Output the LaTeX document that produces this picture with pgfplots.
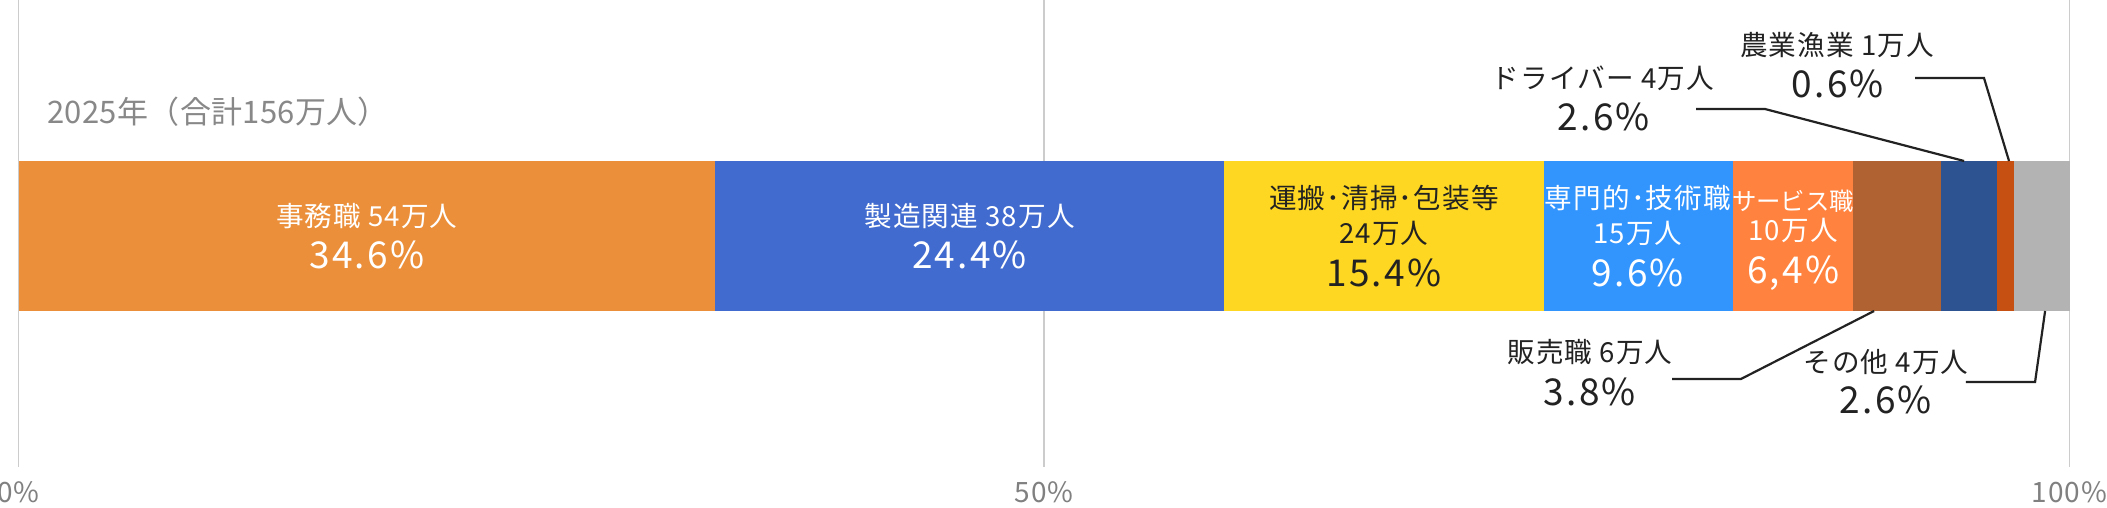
\documentclass[border=0pt]{standalone}
\usepackage{fontspec}
\setmainfont{Noto Sans CJK JP}
\newfontfamily\numfont[LetterSpace=6]{Noto Sans CJK JP}
\newfontfamily\labfont[LetterSpace=4]{Noto Sans CJK JP}
\newfontfamily\titlefont[LetterSpace=1]{Noto Sans CJK JP}
\usepackage{pgfplots}
\pgfplotsset{compat=1.18}
\definecolor{cJimu}{RGB}{235,143,58}
\definecolor{cSeizo}{RGB}{65,107,207}
\definecolor{cUnpan}{RGB}{253,215,33}
\definecolor{cSenmon}{RGB}{50,148,253}
\definecolor{cService}{RGB}{255,131,63}
\definecolor{cHanbai}{RGB}{176,98,51}
\definecolor{cDriver}{RGB}{46,83,145}
\definecolor{cNogyo}{RGB}{198,80,17}
\definecolor{cOther}{RGB}{179,179,179}
\definecolor{cText}{RGB}{34,34,34}
\definecolor{cGrid}{RGB}{204,204,204}
\definecolor{cTitle}{RGB}{136,136,136}
% map (percent, pixel-height) of the axis to picture coordinates
\newcommand{\pos}[2]{({9.25pt+#1*10.255pt},{20.5pt+#2*0.5pt})}
\newcommand{\lab}[4]{\node[anchor=base,inner sep=0pt,yshift=-5pt,text=#4,font=\labfont\fontsize{13.8}{14}\selectfont] at \pos{#1}{#2} {#3};}
\newcommand{\pct}[4]{\node[anchor=base,inner sep=0pt,yshift=-6.75pt,text=#4,font=\numfont\fontsize{18.5}{19}\selectfont] at \pos{#1}{#2} {#3};}
\begin{document}
\begin{tikzpicture}
\begin{axis}[
  at={(9.25pt,20.5pt)}, anchor=south west,
  scale only axis, width=1025.5pt, height=233.5pt,
  xmin=0, xmax=100, ymin=0, ymax=467,
  xbar stacked, bar width=150,
  xtick={0,50,100}, xticklabels={0\%,50\%,100\%},
  ytick=\empty,
  xmajorgrids, grid style={color=cGrid, line width=0.6pt},
  axis line style={draw=none},
  major tick length=0pt,
  xticklabel style={text=gray, font=\labfont\fontsize{14}{14}\selectfont, yshift=-4pt},
  clip=false,
]
\addplot[fill=cJimu, draw=none] coordinates {(33.96,231)};
\addplot[fill=cSeizo, draw=none] coordinates {(24.82,231)};
\addplot[fill=cUnpan, draw=none] coordinates {(15.58,231)};
\addplot[fill=cSenmon, draw=none] coordinates {(9.23,231)};
\addplot[fill=cService, draw=none] coordinates {(5.85,231)};
\addplot[fill=cHanbai, draw=none] coordinates {(4.29,231)};
\addplot[fill=cDriver, draw=none] coordinates {(2.73,231)};
\addplot[fill=cNogyo, draw=none] coordinates {(0.83,231)};
\addplot[fill=cOther, draw=none] coordinates {(2.71,231)};
\end{axis}

% title
\node[anchor=base west, inner sep=0pt, yshift=-5.5pt, text=cTitle, font=\titlefont\fontsize{15.5}{16}\selectfont] at \pos{1.39}{354} {2025年（合計156万人）};

% inside labels
\lab{16.98}{250.5}{事務職 54万人}{white}
\pct{16.98}{212}{34.6\%}{white}
\lab{46.37}{250.5}{製造関連 38万人}{white}
\pct{46.37}{212}{24.4\%}{white}
\lab{66.57}{268.5}{運搬･清掃･包装等}{cText}
\lab{66.57}{233}{24万人}{cText}
\pct{66.57}{193.5}{15.4\%}{cText}
\lab{78.96}{268.5}{専門的･技術職}{white}
\lab{78.96}{233}{15万人}{white}
\pct{78.96}{193.5}{9.6\%}{white}
\node[anchor=base,inner sep=0pt,yshift=-4.5pt,text=white,font=\fontsize{12.2}{13}\selectfont] at \pos{86.52}{265} {サービス職};
\lab{86.52}{236}{10万人}{white}
\pct{86.52}{197}{6,4\%}{white}

% outside labels
\lab{88.66}{421}{農業漁業 1万人}{cText}
\pct{88.71}{382.5}{0.6\%}{cText}
\lab{77.25}{388}{ドライバー 4万人}{cText}
\pct{77.30}{349.5}{2.6\%}{cText}
\lab{76.62}{114}{販売職 6万人}{cText}
\pct{76.62}{74.5}{3.8\%}{cText}
\lab{91.05}{104}{その他 4万人}{cText}
\pct{91.05}{66.5}{2.6\%}{cText}

% leader lines
\draw[cText, line width=1.1pt] \pos{92.47}{389} -- \pos{95.83}{389} -- \pos{97.05}{306};
\draw[cText, line width=1.1pt] \pos{81.79}{358} -- \pos{85.15}{358} -- \pos{94.86}{306};
\draw[cText, line width=1.1pt] \pos{80.62}{88} -- \pos{83.98}{88} -- \pos{90.47}{156};
\draw[cText, line width=1.1pt] \pos{94.95}{85} -- \pos{98.32}{85} -- \pos{98.81}{156};

\pgfresetboundingbox
\useasboundingbox (0,0) rectangle (1053.5pt,254pt);
\end{tikzpicture}
\end{document}
